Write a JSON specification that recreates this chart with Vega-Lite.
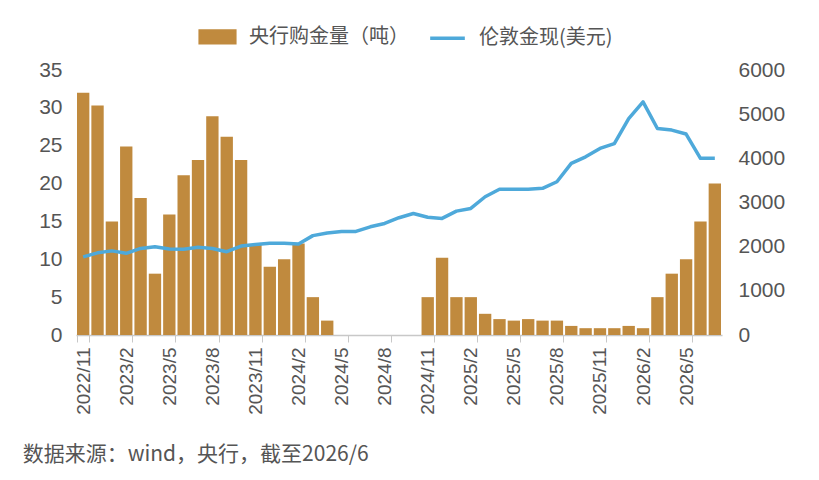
{
  "$schema": "https://vega.github.io/schema/vega-lite/v6.json",
  "width": 819,
  "height": 480,
  "autosize": {"type": "fit", "contains": "padding"},
  "padding": {"left": 22, "right": 34, "top": 59, "bottom": 14},
  "background": "white",
  "config": {
    "font": "Noto Sans CJK SC",
    "view": {"stroke": null},
    "axis": {"labelFont": "Liberation Sans", "labelFontSize": 21, "labelColor": "#555555", "grid": false, "title": null}
  },
  "title": {
    "text": "数据来源：wind，央行，截至2026/6",
    "orient": "bottom",
    "anchor": "start",
    "fontSize": 21,
    "fontWeight": "normal",
    "color": "#555555",
    "dx": -16,
    "offset": 30
  },
  "data": {
    "values": [
      {"m": "2022/11", "tons": 32, "price": 1770},
      {"m": "2022/12", "tons": 30.3, "price": 1860},
      {"m": "2023/1", "tons": 15, "price": 1905},
      {"m": "2023/2", "tons": 24.9, "price": 1850},
      {"m": "2023/3", "tons": 18.1, "price": 1960},
      {"m": "2023/4", "tons": 8.1, "price": 2000},
      {"m": "2023/5", "tons": 15.9, "price": 1945},
      {"m": "2023/6", "tons": 21.1, "price": 1940},
      {"m": "2023/7", "tons": 23.1, "price": 1985},
      {"m": "2023/8", "tons": 28.9, "price": 1960},
      {"m": "2023/9", "tons": 26.2, "price": 1885},
      {"m": "2023/10", "tons": 23.1, "price": 2015},
      {"m": "2023/11", "tons": 12, "price": 2050},
      {"m": "2023/12", "tons": 9, "price": 2075},
      {"m": "2024/1", "tons": 10, "price": 2075},
      {"m": "2024/2", "tons": 12.1, "price": 2060},
      {"m": "2024/3", "tons": 5, "price": 2250},
      {"m": "2024/4", "tons": 1.9, "price": 2310},
      {"m": "2024/5", "tons": 0, "price": 2345},
      {"m": "2024/6", "tons": 0, "price": 2345},
      {"m": "2024/7", "tons": 0, "price": 2450},
      {"m": "2024/8", "tons": 0, "price": 2525},
      {"m": "2024/9", "tons": 0, "price": 2655},
      {"m": "2024/10", "tons": 0, "price": 2750},
      {"m": "2024/11", "tons": 5, "price": 2665},
      {"m": "2024/12", "tons": 10.2, "price": 2640},
      {"m": "2025/1", "tons": 5, "price": 2805},
      {"m": "2025/2", "tons": 5, "price": 2865},
      {"m": "2025/3", "tons": 2.8, "price": 3130},
      {"m": "2025/4", "tons": 2.1, "price": 3300},
      {"m": "2025/5", "tons": 1.9, "price": 3300},
      {"m": "2025/6", "tons": 2.1, "price": 3300},
      {"m": "2025/7", "tons": 1.9, "price": 3320},
      {"m": "2025/8", "tons": 1.9, "price": 3470},
      {"m": "2025/9", "tons": 1.2, "price": 3885},
      {"m": "2025/10", "tons": 0.9, "price": 4035},
      {"m": "2025/11", "tons": 0.9, "price": 4225},
      {"m": "2025/12", "tons": 0.9, "price": 4335},
      {"m": "2026/1", "tons": 1.2, "price": 4900},
      {"m": "2026/2", "tons": 0.9, "price": 5280},
      {"m": "2026/3", "tons": 5, "price": 4675},
      {"m": "2026/4", "tons": 8.1, "price": 4640},
      {"m": "2026/5", "tons": 10, "price": 4550},
      {"m": "2026/6", "tons": 15, "price": 4000},
      {"m": "2026/7", "tons": 20, "price": 4000}
    ]
  },
  "encoding": {
    "x": {
      "field": "m",
      "type": "ordinal",
      "sort": null,
      "scale": {"paddingInner": 0.14, "paddingOuter": 0.07},
      "axis": {
        "values": ["2022/11", "2023/2", "2023/5", "2023/8", "2023/11", "2024/2", "2024/5", "2024/8", "2024/11", "2025/2", "2025/5", "2025/8", "2025/11", "2026/2", "2026/5"],
        "labelAngle": -90,
        "labelFontSize": 19,
        "labelPadding": 5,
        "tickBand": "extent",
        "tickSize": 7,
        "tickColor": "#c8c8c8",
        "domainColor": "#c8c8c8",
        "domainWidth": 1.5
      }
    }
  },
  "layer": [
    {
      "mark": {"type": "bar", "color": "#C08A3E"},
      "encoding": {
        "y": {
          "field": "tons",
          "type": "quantitative",
          "scale": {"domain": [0, 35]},
          "axis": {"values": [0, 5, 10, 15, 20, 25, 30, 35], "domain": false, "ticks": false, "labelPadding": 14}
        },
        "color": {
          "datum": "央行购金量（吨）",
          "type": "nominal",
          "scale": {"domain": ["央行购金量（吨）", "伦敦金现(美元)"], "range": ["#C08A3E", "#4EA9DA"]},
          "legend": {
            "orient": "none",
            "direction": "horizontal",
            "legendX": 122,
            "legendY": -53,
            "title": null,
            "labelFontSize": 20,
            "labelColor": "#555555",
            "symbolSize": 1200,
            "symbolStrokeWidth": 3.5,
            "labelOffset": 12,
            "columnPadding": 14,
            "encode": {
              "symbols": {
                "update": {
                  "shape": {"signal": "datum.value == '伦敦金现(美元)' ? 'stroke' : 'M-1,-0.34H1V0.34H-1Z'"},
                  "fill": {"signal": "datum.value == '伦敦金现(美元)' ? 'transparent' : '#C08A3E'"},
                  "stroke": {"signal": "datum.value == '伦敦金现(美元)' ? '#4EA9DA' : 'transparent'"},
                  "strokeWidth": {"value": 3.5}
                }
              }
            }
          }
        }
      }
    },
    {
      "mark": {"type": "line", "color": "#4EA9DA", "strokeWidth": 3.5, "strokeJoin": "round"},
      "encoding": {
        "y": {
          "field": "price",
          "type": "quantitative",
          "scale": {"domain": [0, 6000]},
          "axis": {"orient": "right", "values": [0, 1000, 2000, 3000, 4000, 5000, 6000], "format": "d", "domain": false, "ticks": false, "labelPadding": 16}
        },
        "color": {"datum": "伦敦金现(美元)", "type": "nominal"}
      }
    }
  ],
  "resolve": {"scale": {"y": "independent"}}
}
